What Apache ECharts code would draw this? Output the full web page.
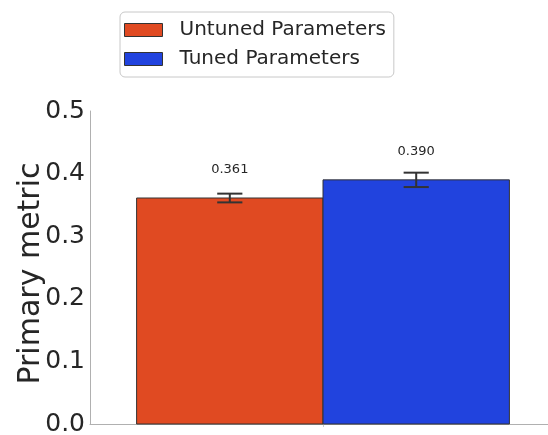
<!DOCTYPE html>
<html>
<head>
<meta charset="utf-8">
<script src="https://cdn.jsdelivr.net/npm/echarts@6/dist/echarts.min.js"></script>
<style>
  html, body { margin: 0; padding: 0; background: #ffffff; }
  #chart { width: 548px; height: 435px; }
</style>
</head>
<body>
<div id="chart"></div>
<script>
// Grouped bar comparison: mean primary metric with error bars
const seriesNames = ['Untuned Parameters', 'Tuned Parameters'];
const means = [0.361, 0.390];
const errors = [0.007, 0.0115];
const barColors = ['#e04a22', '#2143de'];
const yTickMax = 0.5;
const yTickStep = 0.1;

const FONT = 'DejaVu Sans';
const BAR_WIDTH = 0.4;          // in x-axis units
const CAP_HALF = 0.027;         // error-bar cap half width, x-axis units
const LABEL_LIFT = 0.045;       // label anchor above the bar value, y units

const chart = echarts.init(document.getElementById('chart'), null, { renderer: 'canvas' });

function barOffset(i) {
  return (i - (seriesNames.length - 1) / 2) * BAR_WIDTH;
}

const series = seriesNames.map((name, i) => ({
  name: name,
  type: 'custom',
  coordinateSystem: 'cartesian2d',
  clip: false,
  itemStyle: { color: barColors[i] },
  data: [[barOffset(i), means[i], errors[i]]],
  renderItem: function (params, api) {
    const x = api.value(0);
    const v = api.value(1);
    const e = api.value(2);
    const tl = api.coord([x - BAR_WIDTH / 2, v]);
    const br = api.coord([x + BAR_WIDTH / 2, 0]);
    const eTop = api.coord([x, v + e]);
    const eBot = api.coord([x, v - e]);
    const capL = api.coord([x - CAP_HALF, v])[0];
    const capR = api.coord([x + CAP_HALF, v])[0];
    const lab = api.coord([x, v + LABEL_LIFT]);
    const errStyle = { stroke: '#333333', lineWidth: 2 };
    return {
      type: 'group',
      children: [
        {
          type: 'rect',
          shape: { x: tl[0], y: tl[1], width: br[0] - tl[0], height: br[1] - tl[1] },
          style: { fill: barColors[i], stroke: '#333333', lineWidth: 1 }
        },
        { type: 'line', shape: { x1: eTop[0], y1: eTop[1], x2: eBot[0], y2: eBot[1] }, style: errStyle },
        { type: 'line', shape: { x1: capL, y1: eTop[1], x2: capR, y2: eTop[1] }, style: errStyle },
        { type: 'line', shape: { x1: capL, y1: eBot[1], x2: capR, y2: eBot[1] }, style: errStyle },
        {
          type: 'text',
          x: lab[0], y: lab[1],
          style: {
            text: v.toFixed(3),
            fill: '#262626',
            font: '13px "' + FONT + '"',
            align: 'center',
            verticalAlign: 'middle'
          }
        }
      ]
    };
  }
}));

chart.setOption({
  animation: false,
  backgroundColor: '#ffffff',
  textStyle: { fontFamily: FONT },
  legend: {
    orient: 'vertical',
    left: 120,
    top: 12,
    padding: [6, 8, 6, 4],
    itemGap: 5,
    itemWidth: 38,
    itemHeight: 13,
    icon: 'rect',
    borderColor: '#c8c8c8',
    borderWidth: 1,
    borderRadius: 5,
    itemStyle: { borderColor: '#333333', borderWidth: 1 },
    textStyle: {
      fontFamily: FONT, fontSize: 20, color: '#262626',
      lineHeight: 24, padding: [0, 0, 0, 12]
    },
    data: seriesNames
  },
  grid: {
    left: 90, top: 111, height: 313, width: 466,
    containLabel: false,
    outerBoundsMode: 'none'
  },
  xAxis: {
    type: 'value',
    min: -0.5,
    max: 0.5,
    interval: 0.5,
    axisLine: { show: true, onZero: false, lineStyle: { color: '#b0b0b0', width: 1 } },
    axisTick: { show: true, customValues: [0], length: 3, lineStyle: { color: '#cccccc' } },
    axisLabel: { show: false },
    splitLine: { show: false }
  },
  yAxis: {
    type: 'value',
    min: 0,
    max: yTickMax,
    interval: yTickStep,
    name: 'Primary metric',
    nameLocation: 'middle',
    nameGap: 44,
    nameMoveOverlap: false,
    nameTextStyle: {
      fontFamily: FONT, fontSize: 30, color: '#262626',
      padding: [0, 12, 0, 0]
    },
    axisLine: { show: true, onZero: false, lineStyle: { color: '#b0b0b0', width: 1 } },
    axisTick: { show: false },
    axisLabel: {
      fontFamily: FONT, fontSize: 25, color: '#262626', margin: 5,
      formatter: (val) => val.toFixed(1)
    },
    splitLine: { show: false }
  },
  series: series
});
</script>
</body>
</html>
